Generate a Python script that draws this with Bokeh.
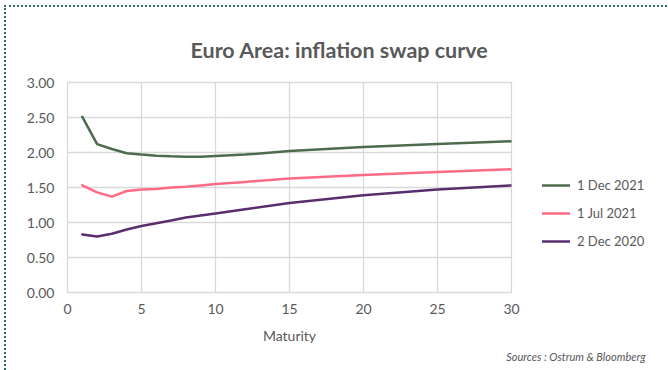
from bokeh.plotting import figure
from bokeh.models import (ColumnDataSource, Legend, LegendItem, Title,
                          FixedTicker, NumeralTickFormatter, Range1d)
from bokeh.embed import file_html
from bokeh.resources import INLINE

# ---- data ----
maturity = [1, 2, 3, 4, 5, 6, 7, 8, 9, 10, 12, 15, 20, 25, 30]
dec_2021 = [2.51, 2.12, 2.05, 1.99, 1.97, 1.955, 1.945, 1.94, 1.94, 1.95, 1.97, 2.02, 2.08, 2.12, 2.16]
jul_2021 = [1.53, 1.43, 1.37, 1.45, 1.47, 1.48, 1.50, 1.51, 1.53, 1.55, 1.58, 1.63, 1.68, 1.72, 1.76]
dec_2020 = [0.83, 0.80, 0.84, 0.90, 0.95, 0.99, 1.03, 1.07, 1.10, 1.13, 1.19, 1.28, 1.39, 1.47, 1.53]
series_names = ["1 Dec 2021", "1 Jul 2021", "2 Dec 2020"]
series_colors = ["#4d6b4e", "#ff6b84", "#5a2e6e"]
x_ticks = [0, 5, 10, 15, 20, 25, 30]
y_ticks = [0, 0.5, 1.0, 1.5, 2.0, 2.5, 3.0]

FONT = "Lato"
GREY = "#595959"

p = figure(frame_width=444, frame_height=210,
           min_border_left=61, min_border_right=155,
           min_border_top=75, min_border_bottom=78,
           x_range=Range1d(0, 30), y_range=Range1d(0, 3),
           output_backend="svg", toolbar_location=None,
           title="Euro Area: inflation swap curve")
p.styles = {"margin-left": "4px", "margin-top": "5px",
            "border-style": "dotted dotted none dotted",
            "border-width": "2px", "border-color": "#2e6a6a"}

p.title.align = "left"
p.title.offset = 123
p.title.text_font = FONT
p.title.text_font_size = "21.5px"
p.title.text_font_style = "bold"
p.title.text_color = GREY
p.title.standoff = 39

p.outline_line_color = "#d9d9d9"
p.outline_line_width = 1.3

for ax in (p.xaxis[0], p.yaxis[0]):
    ax.axis_line_color = None
    ax.major_tick_line_color = None
    ax.minor_tick_line_color = None
    ax.major_tick_out = 0
    ax.major_tick_in = 0
    ax.minor_tick_out = 0
    ax.minor_tick_in = 0
    ax.major_label_text_font = FONT
    ax.major_label_text_font_size = "14px"
    ax.major_label_text_color = GREY

p.yaxis.major_label_standoff = 13
p.xaxis.major_label_standoff = 11
p.xaxis.ticker = FixedTicker(ticks=x_ticks)
p.yaxis.ticker = FixedTicker(ticks=y_ticks)
p.yaxis.formatter = NumeralTickFormatter(format="0.00")
p.xaxis.axis_label = "Maturity"
p.xaxis.axis_label_text_font = FONT
p.xaxis.axis_label_text_font_size = "14px"
p.xaxis.axis_label_text_font_style = "normal"
p.xaxis.axis_label_text_color = GREY
p.xaxis.axis_label_standoff = 10

p.xgrid.ticker = FixedTicker(ticks=x_ticks)
p.ygrid.ticker = FixedTicker(ticks=y_ticks)
for g in (p.xgrid[0], p.ygrid[0]):
    g.grid_line_color = "#d9d9d9"
    g.grid_line_width = 1.3

src = ColumnDataSource(dict(m=maturity, a=dec_2021, b=jul_2021, c=dec_2020))
items = []
for col, name, color in zip(["a", "b", "c"], series_names, series_colors):
    r = p.line("m", col, source=src, line_color=color, line_width=2.5,
               line_join="round", line_cap="round")
    items.append(LegendItem(label=name, renderers=[r]))

legend = Legend(items=items, location=(31, 41), background_fill_alpha=0,
                border_line_color=None, padding=0, margin=0, spacing=8,
                glyph_width=28, glyph_height=20, label_height=20,
                label_standoff=7, label_text_font=FONT,
                label_text_font_size="13px", label_text_color=GREY)
p.add_layout(legend, "right")

sources = Title(text="Sources : Ostrum & Bloomberg", align="right", offset=-134,
                text_font=FONT, text_font_size="11px", text_font_style="italic",
                text_color=GREY, standoff=3)
p.add_layout(sources, "below")

open("out.html", "w").write(file_html(p, INLINE))
